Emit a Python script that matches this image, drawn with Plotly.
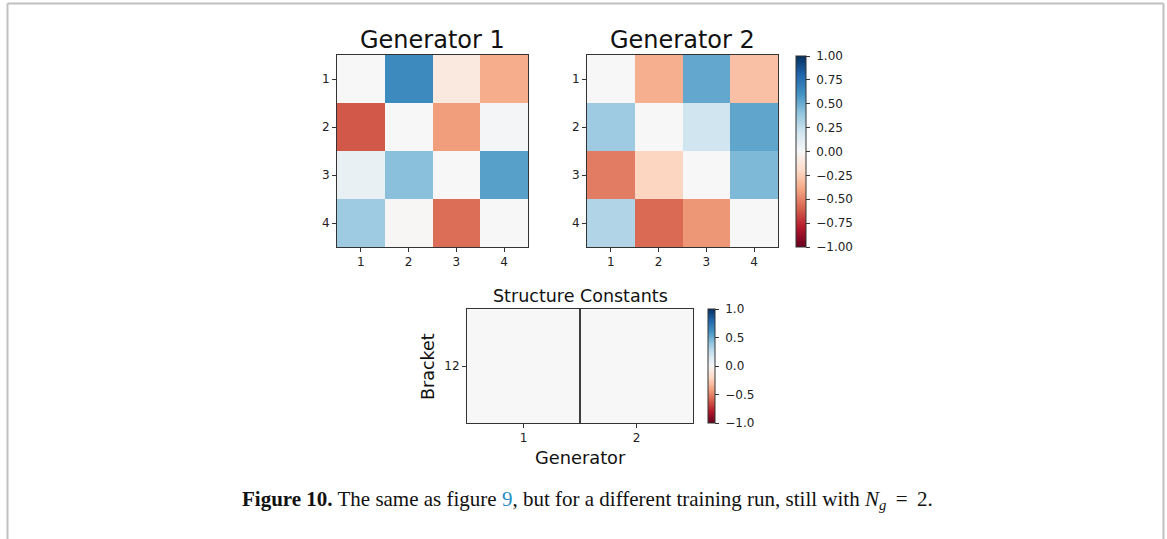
import plotly.graph_objects as go

W, H = 1167, 539

# ---- data ----
indices = [1, 2, 3, 4]
gen1 = [
    [0.00, 0.64, -0.10, -0.37],
    [-0.62, 0.00, -0.42, 0.02],
    [0.08, 0.42, 0.00, 0.55],
    [0.36, -0.01, -0.56, 0.00],
]
gen2 = [
    [0.00, -0.36, 0.52, -0.30],
    [0.36, 0.00, 0.20, 0.53],
    [-0.52, -0.22, 0.00, 0.45],
    [0.30, -0.57, -0.44, 0.00],
]
generators = [1, 2]
brackets = ["12"]
struct = [[0.0, 0.0]]
cb1_ticks = [-1.0, -0.75, -0.5, -0.25, 0.0, 0.25, 0.5, 0.75, 1.0]
cb2_ticks = [-1.0, -0.5, 0.0, 0.5, 1.0]

# matplotlib RdBu
rdbu = ["#67001f", "#b2182b", "#d6604d", "#f4a582", "#fddbc7", "#f7f7f7",
        "#d1e5f0", "#92c5de", "#4393c3", "#2166ac", "#053061"]
cscale = [[i / 10, c] for i, c in enumerate(rdbu)]


def px(x):
    return x / W


def py(y):
    return 1 - y / H


def fmt(v, nd):
    s = f"{abs(v):.{nd}f}"
    return "\u00a0" + ("\u2212" + s if v < 0 else s)


fig = go.Figure()
tick_font = dict(family="DejaVu Sans", size=12, color="#222")

fig.add_trace(go.Heatmap(z=gen1, x=indices, y=indices, colorscale=cscale,
                         zmin=-1, zmax=1, showscale=False,
                         xaxis="x", yaxis="y"))
fig.add_trace(go.Heatmap(z=gen2, x=indices, y=indices, colorscale=cscale,
                         zmin=-1, zmax=1, xaxis="x2", yaxis="y2",
                         colorbar=dict(
                             x=px(796), xanchor="left", xpad=0,
                             y=py(151.5), yanchor="middle", ypad=0,
                             lenmode="pixels", len=191, thickness=10,
                             thicknessmode="pixels",
                             outlinewidth=1, outlinecolor="#333",
                             tickvals=cb1_ticks,
                             ticktext=[fmt(v, 2) for v in cb1_ticks],
                             ticks="outside", ticklen=4, tickcolor="#333",
                             tickfont=tick_font)))
fig.add_trace(go.Heatmap(z=struct, x=generators, y=brackets, colorscale=cscale,
                         zmin=-1, zmax=1, xaxis="x3", yaxis="y3",
                         colorbar=dict(
                             x=px(708), xanchor="left", xpad=0,
                             y=py(366), yanchor="middle", ypad=0,
                             lenmode="pixels", len=114, thickness=7,
                             thicknessmode="pixels",
                             outlinewidth=1, outlinecolor="#333",
                             tickvals=cb2_ticks,
                             ticktext=[fmt(v, 1) for v in cb2_ticks],
                             ticks="outside", ticklen=4, tickcolor="#333",
                             tickfont=tick_font)))

axis_common = dict(showline=True, mirror=True, linecolor="#333", linewidth=1,
                   ticks="outside", ticklen=4, tickcolor="#333",
                   showgrid=False, zeroline=False, tickfont=tick_font)

fig.update_layout(
    width=W, height=H,
    margin=dict(l=0, r=0, t=0, b=0),
    paper_bgcolor="white", plot_bgcolor="white",
    xaxis=dict(domain=[px(337), px(528)], anchor="y", tickvals=indices,
               range=[0.5, 4.5], **axis_common),
    yaxis=dict(domain=[py(247), py(55)], anchor="x", tickvals=indices,
               range=[4.5, 0.5], **axis_common),
    xaxis2=dict(domain=[px(587), px(778)], anchor="y2", tickvals=indices,
                range=[0.5, 4.5], **axis_common),
    yaxis2=dict(domain=[py(247), py(55)], anchor="x2", tickvals=indices,
                range=[4.5, 0.5], **axis_common),
    xaxis3=dict(domain=[px(467), px(693)], anchor="y3", tickvals=generators,
                range=[0.5, 2.5], **axis_common),
    yaxis3=dict(domain=[py(423), py(309)], anchor="x3", type="category",
                **axis_common),
)

fig.add_shape(type="line", xref="x3", yref="y3 domain", x0=1.5, x1=1.5,
              y0=0, y1=1, line=dict(color="black", width=1.5))

# page frame
frame = dict(color="#c0c0c0", width=2)
fig.add_shape(type="line", xref="paper", yref="paper", x0=px(7.5), x1=px(7.5),
              y0=py(3.5), y1=py(545), line=frame)
fig.add_shape(type="line", xref="paper", yref="paper", x0=px(7.5), x1=px(1163.5),
              y0=py(3.5), y1=py(3.5), line=frame)
fig.add_shape(type="line", xref="paper", yref="paper", x0=px(1163.5), x1=px(1163.5),
              y0=py(3.5), y1=py(545), line=frame)

title_font = dict(family="DejaVu Sans", color="#111")
fig.add_annotation(text="Generator 1", x=px(432.5), y=py(40), xref="paper",
                   yref="paper", showarrow=False, font=dict(size=24, **title_font),
                   xanchor="center", yanchor="middle")
fig.add_annotation(text="Generator 2", x=px(682.5), y=py(40), xref="paper",
                   yref="paper", showarrow=False, font=dict(size=24, **title_font),
                   xanchor="center", yanchor="middle")
fig.add_annotation(text="Structure Constants", x=px(580), y=py(296), xref="paper",
                   yref="paper", showarrow=False, font=dict(size=17.5, **title_font),
                   xanchor="center", yanchor="middle")
fig.add_annotation(text="Bracket", x=px(428), y=py(367), xref="paper",
                   yref="paper", showarrow=False, font=dict(size=17.5, **title_font),
                   textangle=-90, xanchor="center", yanchor="middle")
fig.add_annotation(text="Generator", x=px(580), y=py(457), xref="paper",
                   yref="paper", showarrow=False, font=dict(size=17.8, **title_font),
                   xanchor="center", yanchor="middle")

caption = ("<b>Figure 10.</b> The same as figure "
           "<span style='color:#2a8cc4'>9</span>, but for a different training "
           "run, still with <i>N</i><sub><i>g</i></sub>\u2009 = \u20092.")
fig.add_annotation(text=caption, x=px(240), y=py(500), xref="paper", yref="paper",
                   showarrow=False, xanchor="left", yanchor="middle",
                   font=dict(family="Liberation Serif", size=21, color="#111"))

fig.write_html("out.html")
